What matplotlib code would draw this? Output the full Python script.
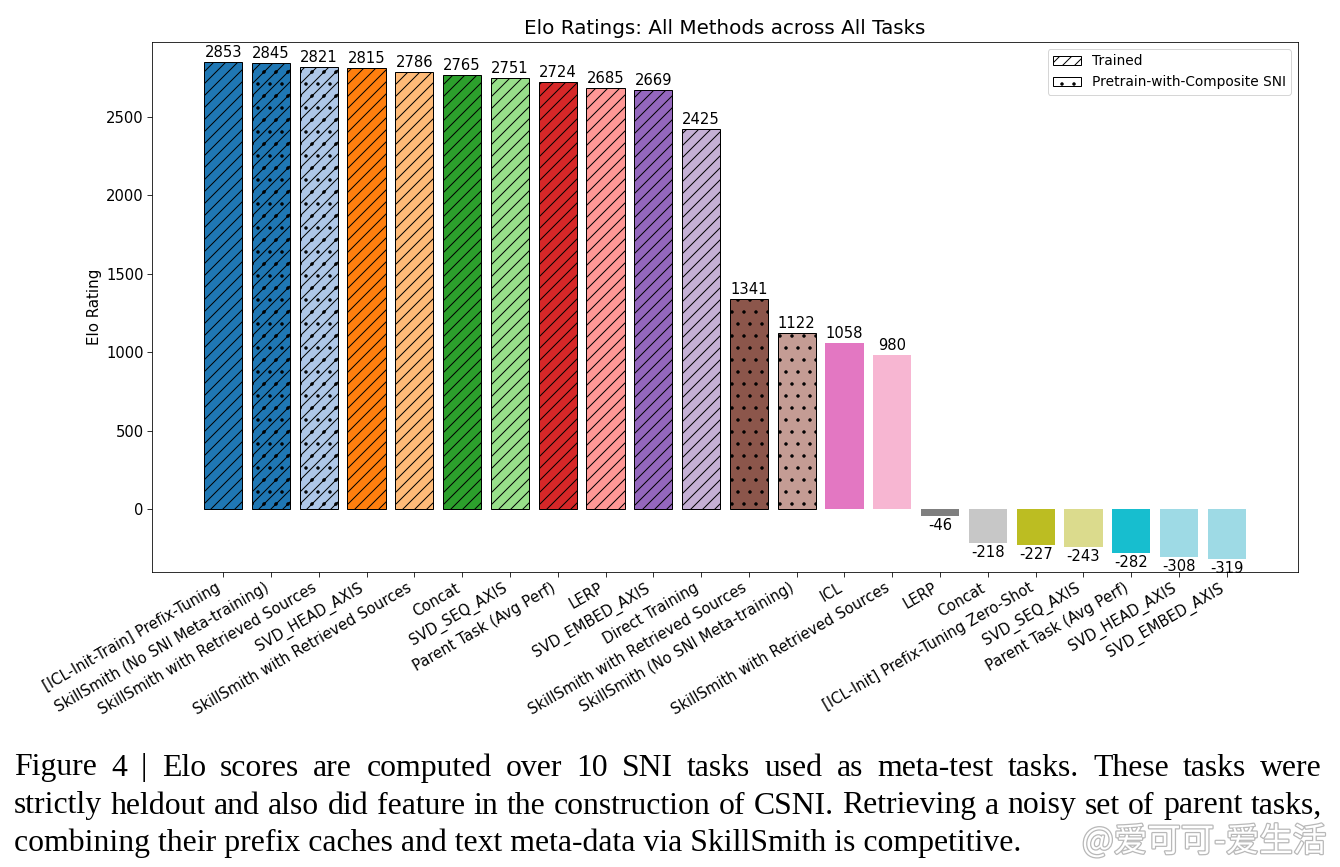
import matplotlib
matplotlib.use("Agg")
import matplotlib.pyplot as plt
import matplotlib.patheffects as pe
from matplotlib.patches import Patch

methods = [
    "[ICL-Init-Train] Prefix-Tuning",
    "SkillSmith (No SNI Meta-training)",
    "SkillSmith with Retrieved Sources",
    "SVD_HEAD_AXIS",
    "SkillSmith with Retrieved Sources",
    "Concat",
    "SVD_SEQ_AXIS",
    "Parent Task (Avg Perf)",
    "LERP",
    "SVD_EMBED_AXIS",
    "Direct Training",
    "SkillSmith with Retrieved Sources",
    "SkillSmith (No SNI Meta-training)",
    "ICL",
    "SkillSmith with Retrieved Sources",
    "LERP",
    "Concat",
    "[ICL-Init] Prefix-Tuning Zero-Shot",
    "SVD_SEQ_AXIS",
    "Parent Task (Avg Perf)",
    "SVD_HEAD_AXIS",
    "SVD_EMBED_AXIS",
]
elo = [2853, 2845, 2821, 2815, 2786, 2765, 2751, 2724, 2685, 2669, 2425,
       1341, 1122, 1058, 980, -46, -218, -227, -243, -282, -308, -319]
hatches = ["//", "//.", "//.", "//", "//", "//", "//", "//", "//", "//", "//",
           ".", ".", "", "", "", "", "", "", "", "", ""]
colors = ["#1f77b4", "#1f77b4", "#aec7e8", "#ff7f0e", "#ffbb78", "#2ca02c",
          "#98df8a", "#d62728", "#ff9896", "#9467bd", "#c5b0d5", "#8c564b",
          "#c49c94", "#e377c2", "#f7b6d2", "#7f7f7f", "#c7c7c7", "#bcbd22",
          "#dbdb8d", "#17becf", "#9edae5", "#9edae5"]

legend_labels = ["Trained", "Pretrain-with-Composite SNI"]
legend_hatches = ["//", "."]

caption_lines = [
    "Figure 4 | Elo scores are computed over 10 SNI tasks used as meta-test tasks. These tasks were",
    "strictly heldout and also did feature in the construction of CSNI. Retrieving a noisy set of parent tasks,",
    "combining their prefix caches and text meta-data via SkillSmith is competitive.",
]
watermark = "@爱可可-爱生活"

W, H = 1340, 867
DPI = 72
S = 100 / 72
fig = plt.figure(figsize=(W / DPI, H / DPI), dpi=DPI)
ax = fig.add_axes([152 / W, 1 - 572 / H, (1298 - 152) / W, (572 - 42) / H])

x = list(range(len(elo)))
bars = ax.bar(x, elo, width=0.8, color=colors)
for b, h in zip(bars, hatches):
    if h:
        b.set_hatch(h)
        b.set_edgecolor("black")
        b.set_linewidth(1.0)
    else:
        b.set_linewidth(0)

ax.bar_label(bars, labels=[str(v) for v in elo], padding=2, fontsize=10.6 * S)

ax.set_ylim(-402, 2978)
ax.set_xticks(x)
ax.set_xticklabels(methods, rotation=30, ha="right", fontsize=10.6 * S)
ax.tick_params(axis="y", labelsize=10.6 * S)
ax.tick_params(length=3.5 * S)
ax.set_ylabel("Elo Rating", fontsize=10.8 * S)
ax.set_title("Elo Ratings: All Methods across All Tasks", fontsize=14.3 * S,
             pad=6 * S)

handles = [Patch(facecolor="white", edgecolor="black", hatch=h) for h in legend_hatches]
ax.legend(handles, legend_labels, loc="upper right", fontsize=9.9 * S)

# caption, justified like the reference
fig.canvas.draw()
renderer = fig.canvas.get_renderer()
cap_family = "Liberation Serif"
left_px, right_px = 14, 1322


def width_at(s, size):
    t = fig.text(0, 0, s, fontsize=size, family=cap_family)
    w = t.get_window_extent(renderer).width
    t.remove()
    return w


size_a = 20 * 1036 / width_at(caption_lines[2], 20)
size_b = 20 * (right_px - left_px - 8) / width_at(caption_lines[1], 20)
cap_size = min(size_a, size_b)

ys = [768, 806, 843]
for i, (line, yy) in enumerate(zip(caption_lines, ys)):
    yf = 1 - yy / H
    if i == len(caption_lines) - 1:
        fig.text(left_px / W, yf, line, fontsize=cap_size, family=cap_family,
                 va="center", ha="left")
        continue
    words = line.split(" ")
    txts = [fig.text(0, yf, w, fontsize=cap_size, family=cap_family,
                     va="center", ha="left") for w in words]
    widths = [t.get_window_extent(renderer).width for t in txts]
    gap = (right_px - left_px - sum(widths)) / (len(words) - 1)
    xp = left_px
    for t, wd in zip(txts, widths):
        t.set_x(xp / W)
        xp += wd + gap

fig.text(1082 / W, 1 - 842 / H, watermark, fontsize=33.5, color="white",
         family=["Noto Sans CJK SC", "DejaVu Sans"], va="center", ha="left",
         path_effects=[pe.withStroke(linewidth=2.5, foreground="#b8b8b8")])

fig.savefig("out.png", dpi=DPI)
